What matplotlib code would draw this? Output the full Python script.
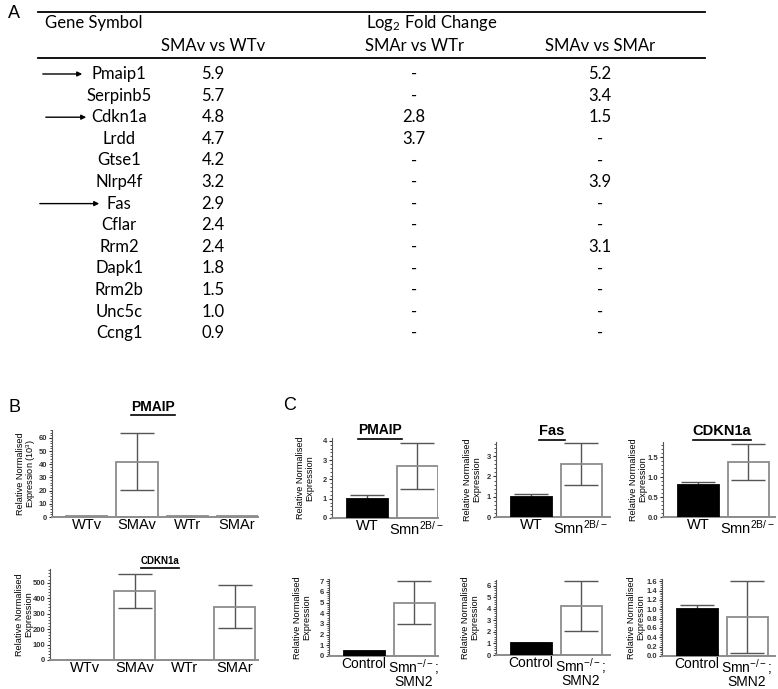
import numpy as np
import matplotlib
matplotlib.use("Agg")
from matplotlib import pyplot as plt
from matplotlib.lines import Line2D
from matplotlib.patches import FancyArrowPatch
from matplotlib.ticker import MultipleLocator

plt.rcParams['mathtext.default'] = 'regular'

W, H = 778, 689

# ---- panel A: table of log2 fold changes
genes = ['Pmaip1', 'Serpinb5', 'Cdkn1a', 'Lrdd', 'Gtse1', 'Nlrp4f', 'Fas',
         'Cflar', 'Rrm2', 'Dapk1', 'Rrm2b', 'Unc5c', 'Ccng1']
smav_vs_wtv = ['5.9', '5.7', '4.8', '4.7', '4.2', '3.2', '2.9', '2.4', '2.4', '1.8', '1.5', '1.0', '0.9']
smar_vs_wtr = ['-', '-', '2.8', '3.7', '-', '-', '-', '-', '-', '-', '-', '-', '-']
smav_vs_smar = ['5.2', '3.4', '1.5', '-', '-', '3.9', '-', '-', '3.1', '-', '-', '-', '-']
col_headers = ['SMAv vs WTv', 'SMAr vs WTr', 'SMAv vs SMAr']
arrowed = ['Pmaip1', 'Cdkn1a', 'Fas']

# ---- panel B: microarray validation
b_groups = ['WTv', 'SMAv', 'WTr', 'SMAr']
b_pmaip = [0.5, 42, 0.5, 0.5]
b_pmaip_err = [0, 21.5, 0, 0]
b_cdkn1a = [3, 445, 3, 345]
b_cdkn1a_err = [0, 112, 0, 137]

# ---- panel C: qPCR in two mouse models
c_top_groups = ['WT', 'Smn$^{2B/-}$']
c_bot_groups = ['Control', 'Smn$^{-/-}$;\nSMN2']
c_pmaip = [1.0, 2.7]
c_pmaip_err = [0.17, 1.17]
c_fas = [1.0, 2.62]
c_fas_err = [0.12, 1.02]
c_cdkn1a = [0.8, 1.38]
c_cdkn1a_err = [0.08, 0.44]
c2_pmaip = [0.45, 5.0]
c2_pmaip_err = [0.03, 2.0]
c2_fas = [1.05, 4.25]
c2_fas_err = [0.03, 2.15]
c2_cdkn1a = [1.0, 0.83]
c2_cdkn1a_err = [0.09, 0.77]

fig = plt.figure(figsize=(W / 100, H / 100), dpi=100)


def fx(x):
    return x / W


def fy(y):
    return 1 - y / H


def hline(x0, x1, y, lw=1.3):
    fig.add_artist(Line2D([fx(x0), fx(x1)], [fy(y), fy(y)], transform=fig.transFigure,
                          color='black', lw=lw))


tfont = dict(family='Lato', fontsize=12, color='black')

fig.text(fx(8), fy(14), 'A', family='Liberation Sans', fontsize=13, va='center')
hline(38, 705, 12)
fig.text(fx(45), fy(23), 'Gene Symbol', ha='left', va='center', **tfont)
fig.text(fx(366), fy(23), 'Log$_2$ Fold Change', ha='left', va='center', **tfont)
col_x = [213, 414, 600]
for cx, h in zip(col_x, col_headers):
    fig.text(fx(cx), fy(46), h, ha='center', va='center', **tfont)
hline(38, 705, 58)

# arrow start / end x for the genes validated in panels B and C
arrow_x = {'Pmaip1': (40, 85), 'Cdkn1a': (43, 89), 'Fas': (37, 102)}
for i, g in enumerate(genes):
    y = 74 + i * 21.6
    fig.text(fx(119), fy(y), g, ha='center', va='center', **tfont)
    for cx, col in zip(col_x, [smav_vs_wtv, smar_vs_wtr, smav_vs_smar]):
        fig.text(fx(cx), fy(y), col[i], ha='center', va='center', **tfont)
    if g in arrowed:
        xa, xb = arrow_x[g]
        fig.add_artist(FancyArrowPatch((fx(xa), fy(y)), (fx(xb), fy(y)),
                                       transform=fig.transFigure, arrowstyle='-|>',
                                       mutation_scale=7, lw=1, color='black'))

titles = []


def bar_panel(box, groups, means, errs, colors, ymax, major, ylabel, ylab_x,
              title=None, title_xy=None, title_size=9, xfs=10.5):
    x0, y0, x1, y1 = box
    ax = fig.add_axes([fx(x0), fy(y1), (x1 - x0) / W, (y1 - y0) / H])
    xs = np.arange(len(groups))
    edges = ['black' if c == 'black' else '#8c8c8c' for c in colors]
    faces = ['black' if c == 'black' else 'none' for c in colors]
    ax.bar(xs, means, width=0.82, color=faces, edgecolor=edges, linewidth=1.3, zorder=3)
    m = np.array(errs) > 0
    ax.errorbar(xs[m], np.array(means)[m], yerr=np.array(errs)[m], fmt='none',
                ecolor='#555555', elinewidth=1, capsize=12, capthick=1, zorder=2)
    ax.set_xlim(-0.7, -0.7 + (x1 - x0) / 50)
    ax.set_ylim(0, ymax)
    ax.set_xticks(xs, groups, family='Liberation Sans', fontsize=xfs, linespacing=0.8)
    ax.tick_params(axis='x', length=0, pad=1)
    ax.yaxis.set_major_locator(MultipleLocator(major))
    ax.yaxis.set_minor_locator(MultipleLocator(major / 5))
    ax.tick_params(axis='y', which='major', length=2.5, width=0.8, pad=1,
                   labelsize=5.5, colors='#333333')
    ax.tick_params(axis='y', which='minor', length=1.3, width=0.7, colors='#555555')
    for lab in ax.get_yticklabels():
        lab.set_fontweight('bold')
        lab.set_family('Liberation Sans')
    ax.spines[['top', 'right']].set_visible(False)
    ax.spines['left'].set_color('#555555')
    ax.spines['left'].set_linewidth(0.8)
    ax.spines['bottom'].set_color('#8c8c8c')
    ax.spines['bottom'].set_linewidth(1.4)
    fig.text(fx(ylab_x), fy((y0 + y1) / 2), ylabel, rotation=90, ha='center', va='center',
             family='Liberation Sans', fontsize=6.6, linespacing=0.95)
    if title:
        t = fig.text(fx(title_xy[0]), fy(title_xy[1]), title, ha='center', va='center',
                     family='Liberation Sans', fontsize=title_size, fontweight='bold')
        titles.append(t)
    return ax


ylab = 'Relative Normalised\nExpression'
fig.text(fx(8), fy(408), 'B', family='Liberation Sans', fontsize=13, va='center')
fig.text(fx(283), fy(405), 'C', family='Liberation Sans', fontsize=13, va='center')

bar_panel((52, 430, 258, 517), b_groups, b_pmaip, b_pmaip_err, ['white'] * 4, 66, 10,
          'Relative Normalised\nExpression (10$^3$)', 27, 'PMAIP', (153, 407), 10)
bar_panel((50, 569, 258, 660), b_groups, b_cdkn1a, b_cdkn1a_err, ['white'] * 4, 588, 100,
          ylab, 24, 'CDKN1a', (160, 561), 7)

pair = ['black', 'white']
bar_panel((332, 438, 438, 518), c_top_groups, c_pmaip, c_pmaip_err, pair, 4.15, 1,
          ylab, 305, 'PMAIP', (380, 430), 10)
bar_panel((496, 442, 610, 517), c_top_groups, c_fas, c_fas_err, pair, 3.7, 1,
          ylab, 472, 'Fas', (552, 431), 10.5)
bar_panel((663, 442, 775, 517), c_top_groups, c_cdkn1a, c_cdkn1a_err, pair, 1.88, 0.5,
          ylab, 638, 'CDKN1a', (722, 431), 10.5)
bar_panel((329, 579, 438, 656), c_bot_groups, c2_pmaip, c2_pmaip_err, pair, 7.2, 1,
          ylab, 302, None, xfs=10)
bar_panel((496, 580, 610, 655), c_bot_groups, c2_fas, c2_fas_err, pair, 6.5, 1,
          ylab, 470, None, xfs=10)
bar_panel((662, 579, 775, 656), c_bot_groups, c2_cdkn1a, c2_cdkn1a_err, pair, 1.65, 0.2,
          ylab, 636, None, xfs=10)

# underline the gene titles
fig.canvas.draw()
for t in titles:
    bb = t.get_window_extent()
    yb = (bb.y0 - 1.5) / H
    fig.add_artist(Line2D([bb.x0 / W, bb.x1 / W], [yb, yb], transform=fig.transFigure,
                          color='black', lw=1.2))

fig.savefig('out.png', dpi=100)
